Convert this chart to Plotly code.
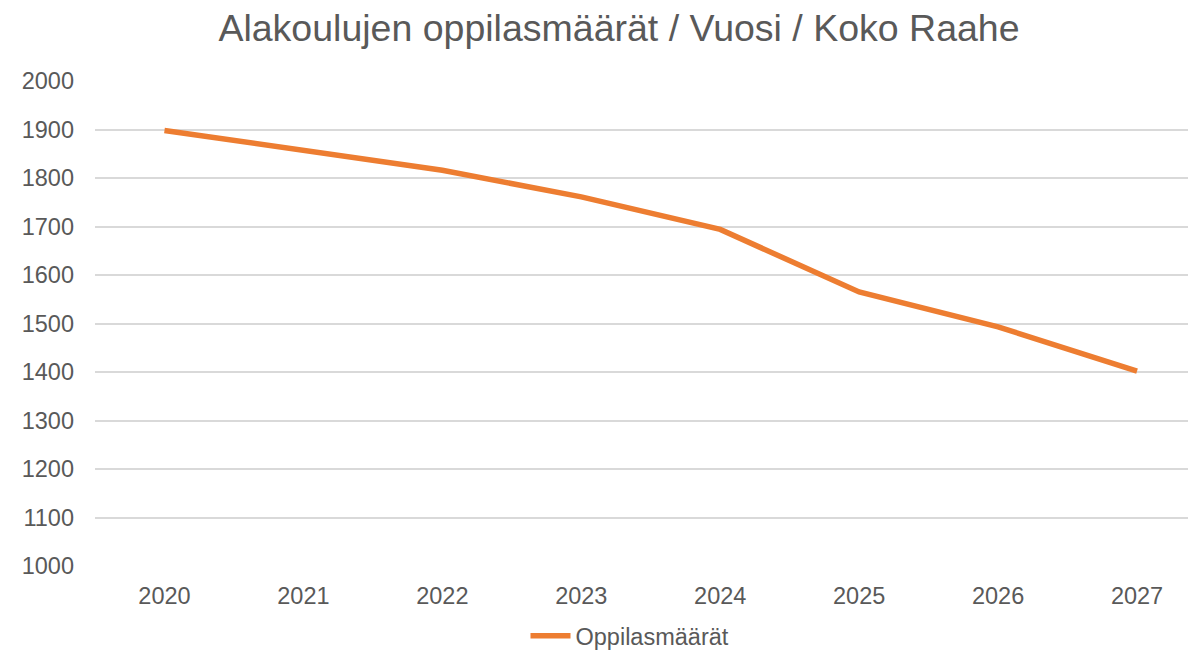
import plotly.graph_objects as go

years = ["2020", "2021", "2022", "2023", "2024", "2025", "2026", "2027"]
oppilasmaarat = [1898, 1858, 1816, 1761, 1694, 1565, 1493, 1402]
y_ticks = [1000, 1100, 1200, 1300, 1400, 1500, 1600, 1700, 1800, 1900, 2000]
series_name = "Oppilasmäärät"
title_text = "Alakoulujen oppilasmäärät / Vuosi / Koko Raahe"

# The page places the figure 8 px from the top-left corner of the window.
W, H = 1188, 650
font_family = "Liberation Sans, Arial, sans-serif"
text_color = "#595959"

fig = go.Figure()
fig.add_trace(go.Scatter(
    x=list(range(len(years))), y=oppilasmaarat, mode="lines", name=series_name,
    line=dict(color="#ED7D31", width=5.5, shape="linear"),
))

left, top, bottom = 86.5, 73, 92
fig.update_layout(
    width=W, height=H,
    paper_bgcolor="white", plot_bgcolor="white",
    margin=dict(l=left, r=0, t=top, b=bottom, autoexpand=False),
    font=dict(family=font_family, color=text_color, size=23.5),
    title=dict(text=title_text, x=611 / W, xanchor="center", xref="container",
               y=1 - 20 / H, yanchor="middle", yref="container",
               font=dict(size=37.5, color=text_color, family=font_family)),
    showlegend=True,
    legend=dict(orientation="h", x=622 / W, xanchor="center", xref="container",
                y=-7 / H, yanchor="bottom", yref="container",
                font=dict(size=23.5, color=text_color), itemwidth=40),
    xaxis=dict(range=[-0.5, (W - left) / 139 - 0.5], tickmode="array",
               tickvals=list(range(len(years))), ticktext=years,
               showgrid=False, zeroline=False, showline=False, ticks="",
               automargin=False, ticklabelstandoff=13,
               tickfont=dict(size=23.5, color=text_color)),
    yaxis=dict(range=[1000, 2000], tickmode="array", tickvals=y_ticks,
               ticktext=[str(v) for v in y_ticks],
               showgrid=True, gridcolor="#D9D9D9", gridwidth=1.5,
               zeroline=False, showline=False, ticks="", ticklabelstandoff=20,
               automargin=False,
               tickfont=dict(size=23.5, color=text_color)),
)

fig.write_html("out.html")
